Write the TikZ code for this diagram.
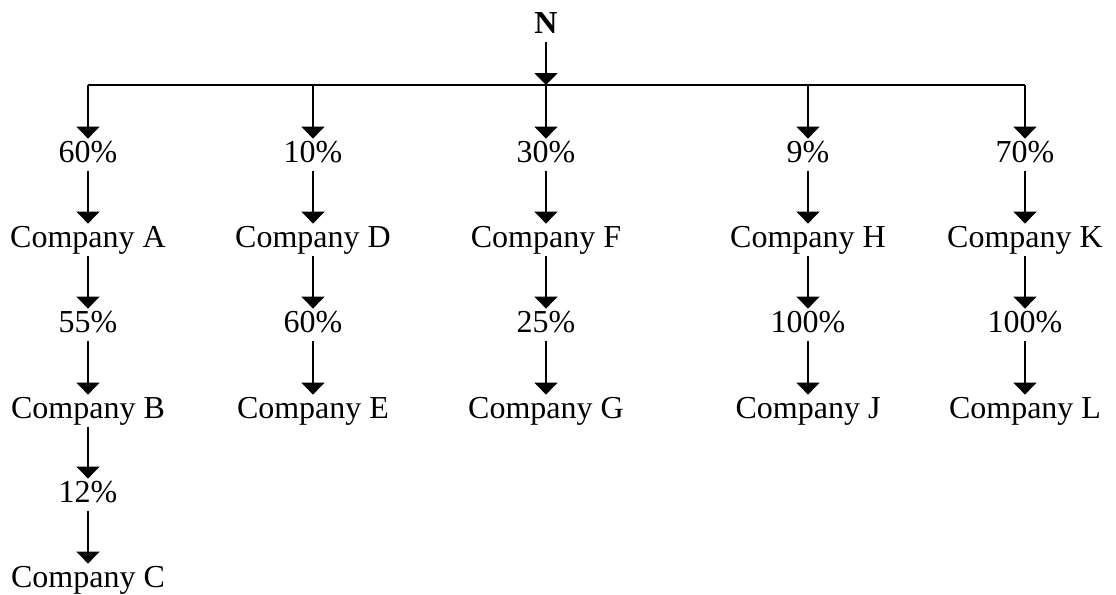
\documentclass[tikz,border=0pt]{standalone}
\usepackage{fontspec}
\setmainfont{Liberation Serif}
\usetikzlibrary{arrows.meta}

\begin{document}
\begin{tikzpicture}[
    x=0.5pt, y=-0.5pt,
    line/.style={line width=1pt},
    arrow/.style={line width=1pt, -{Triangle[width=11.5pt, length=6pt]}, shorten >=2.5pt},
    lbl/.style={anchor=base, inner sep=2pt, text height=0.7em, text depth=0.22em,
                font=\fontsize{16}{19}\selectfont}
]
    \useasboundingbox (0,0) rectangle (1116,595);

    % Column positions and baselines of the rows
    \def\colA{88}  \def\colD{313} \def\colF{546} \def\colH{808} \def\colK{1025}
    \def\rowP{162} \def\rowC{247} \def\rowPP{332} \def\rowCC{418} \def\rowPPP{502} \def\rowCCC{587}

    % Owner at the top
    \node[lbl, font=\fontsize{16}{19}\selectfont\bfseries] (owner) at (\colF, 33) {N};
    \coordinate (bar) at (\colF, 85);

    % First level: percentages
    \node[lbl] (pA) at (\colA, \rowP) {60\%};
    \node[lbl] (pD) at (\colD, \rowP) {10\%};
    \node[lbl] (pF) at (\colF, \rowP) {30\%};
    \node[lbl] (pH) at (\colH, \rowP) {9\%};
    \node[lbl] (pK) at (\colK, \rowP) {70\%};

    % First level: companies
    \node[lbl] (compA) at (\colA, \rowC) {Company A};
    \node[lbl] (compD) at (\colD, \rowC) {Company D};
    \node[lbl] (compF) at (\colF, \rowC) {Company F};
    \node[lbl] (compH) at (\colH, \rowC) {Company H};
    \node[lbl] (compK) at (\colK, \rowC) {Company K};

    % Second level
    \node[lbl] (pB) at (\colA, \rowPP) {55\%};
    \node[lbl] (pE) at (\colD, \rowPP) {60\%};
    \node[lbl] (pG) at (\colF, \rowPP) {25\%};
    \node[lbl] (pJ) at (\colH, \rowPP) {100\%};
    \node[lbl] (pL) at (\colK, \rowPP) {100\%};

    \node[lbl] (compB) at (\colA, \rowCC) {Company B};
    \node[lbl] (compE) at (\colD, \rowCC) {Company E};
    \node[lbl] (compG) at (\colF, \rowCC) {Company G};
    \node[lbl] (compJ) at (\colH, \rowCC) {Company J};
    \node[lbl] (compL) at (\colK, \rowCC) {Company L};

    % Third level (only under Company B)
    \node[lbl] (pC) at (\colA, \rowPPP) {12\%};
    \node[lbl] (compC) at (\colA, \rowCCC) {Company C};

    % Owner down to the bar, and the bar itself
    \draw[arrow, shorten >=0pt] (owner) -- (bar);
    \draw[line] (bar -| pA) -- (bar -| pK);

    % Bar down to the first percentages
    \draw[arrow] (bar -| pA) -- (pA);
    \draw[arrow] (bar -| pD) -- (pD);
    \draw[arrow] (bar -| pF) -- (pF);
    \draw[arrow] (bar -| pH) -- (pH);
    \draw[arrow] (bar -| pK) -- (pK);

    % Percentages to companies
    \draw[arrow] (pA) -- (compA);
    \draw[arrow] (pD) -- (compD);
    \draw[arrow] (pF) -- (compF);
    \draw[arrow] (pH) -- (compH);
    \draw[arrow] (pK) -- (compK);

    \draw[arrow] (compA) -- (pB);
    \draw[arrow] (compD) -- (pE);
    \draw[arrow] (compF) -- (pG);
    \draw[arrow] (compH) -- (pJ);
    \draw[arrow] (compK) -- (pL);

    \draw[arrow] (pB) -- (compB);
    \draw[arrow] (pE) -- (compE);
    \draw[arrow] (pG) -- (compG);
    \draw[arrow] (pJ) -- (compJ);
    \draw[arrow] (pL) -- (compL);

    \draw[arrow] (compB) -- (pC);
    \draw[arrow] (pC) -- (compC);

\end{tikzpicture}
\end{document}
